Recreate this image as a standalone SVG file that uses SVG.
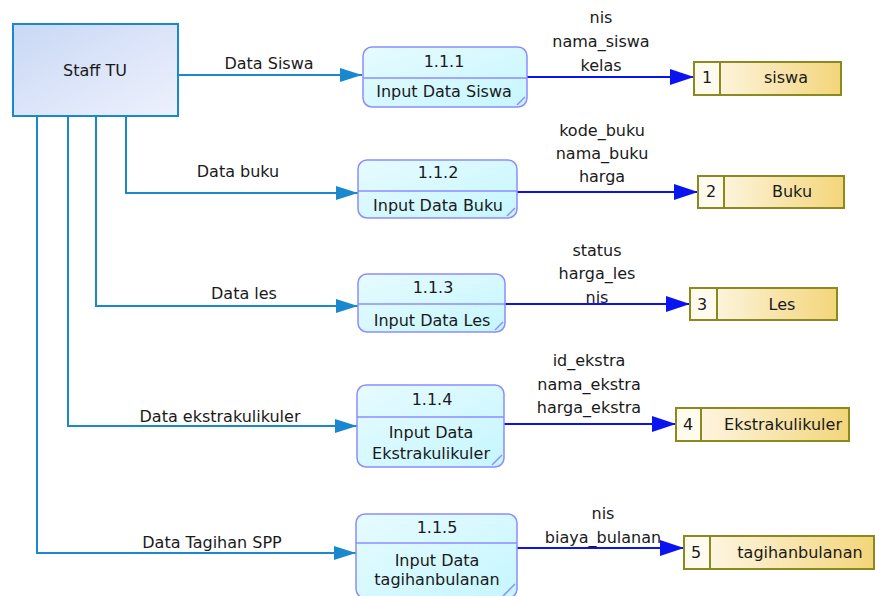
<svg xmlns="http://www.w3.org/2000/svg" width="875" height="596" viewBox="0 0 875 596">
<defs>
<linearGradient id="gExt" x1="0" y1="0" x2="1" y2="1"><stop offset="0" stop-color="#c9d8f5"/><stop offset="1" stop-color="#eef1fd"/></linearGradient>
<linearGradient id="gProc" x1="0" y1="0" x2="1" y2="1"><stop offset="0" stop-color="#e6fbff"/><stop offset="1" stop-color="#c6f6ff"/></linearGradient>
<linearGradient id="gStore" x1="0" y1="0" x2="1" y2="0"><stop offset="0" stop-color="#fffaf0"/><stop offset="1" stop-color="#f3d57a"/></linearGradient>
<marker id="aIn" markerWidth="22" markerHeight="14" refX="22" refY="7" orient="auto" markerUnits="userSpaceOnUse"><path d="M0,0 L22,7 L0,14 Z" fill="#1a88cf"/></marker>
<marker id="aOut" markerWidth="24" markerHeight="16" refX="24" refY="8" orient="auto" markerUnits="userSpaceOnUse"><path d="M0,0 L24,8 L0,16 Z" fill="#0a14f0"/></marker>
</defs>
<style>
text{font-family:"DejaVu Sans",Verdana,sans-serif;font-size:16px;fill:#1a1a1a;}
.c{text-anchor:middle;}
.in{fill:none;stroke:#1a88cf;stroke-width:2;}
.out{fill:none;stroke:#0a14f0;stroke-width:2;}
.proc rect.b{fill:url(#gProc);stroke:#8c8cff;stroke-width:1.5;}
.proc line{stroke:#8c8cff;stroke-width:1.5;}
.store rect.b{fill:url(#gStore);stroke:#8a8a1e;stroke-width:2;}
.store rect.n{fill:#fffaee;stroke:#8a8a1e;stroke-width:2;}
</style>
<rect width="875" height="596" fill="#ffffff"/>

<g id="staff-tu">
<rect x="13" y="24" width="165" height="92" fill="url(#gExt)" stroke="#1a88cf" stroke-width="2"/>
<text class="c" x="95" y="76">Staff TU</text>
</g>

<g id="connectors">
<path class="in" d="M178,75 H362" marker-end="url(#aIn)"/>
<path class="in" d="M126,116 V193 H358" marker-end="url(#aIn)"/>
<path class="in" d="M96,116 V306 H358" marker-end="url(#aIn)"/>
<path class="in" d="M68,116 V426 H357" marker-end="url(#aIn)"/>
<path class="in" d="M37,116 V553 H356" marker-end="url(#aIn)"/>
<path class="out" d="M527,77 H694" marker-end="url(#aOut)"/>
<path class="out" d="M517,192 H698" marker-end="url(#aOut)"/>
<path class="out" d="M505,304 H690" marker-end="url(#aOut)"/>
<path class="out" d="M504,424 H676" marker-end="url(#aOut)"/>
<path class="out" d="M517,548 H684" marker-end="url(#aOut)"/>
<text class="c" x="269" y="69">Data Siswa</text>
<text class="c" x="238" y="177">Data buku</text>
<text class="c" x="244" y="299">Data les</text>
<text class="c" x="220" y="422">Data ekstrakulikuler</text>
<text class="c" x="212" y="548">Data Tagihan SPP</text>
<text class="c" x="601" y="23">nis</text>
<text class="c" x="601" y="47">nama_siswa</text>
<text class="c" x="601" y="71">kelas</text>
<text class="c" x="602" y="136">kode_buku</text>
<text class="c" x="602" y="159">nama_buku</text>
<text class="c" x="602" y="182">harga</text>
<text class="c" x="597" y="256">status</text>
<text class="c" x="597" y="279">harga_les</text>
<text class="c" x="597" y="303">nis</text>
<text class="c" x="589" y="366">id_ekstra</text>
<text class="c" x="589" y="390">nama_ekstra</text>
<text class="c" x="589" y="413">harga_ekstra</text>
<text class="c" x="603" y="519">nis</text>
<text class="c" x="603" y="543">biaya_bulanan</text>
</g>

<g id="p111" class="proc">
<rect class="b" x="363" y="47" width="164" height="60" rx="9"/>
<line x1="363" y1="78" x2="527" y2="78"/>
<line x1="517" y1="105" x2="525" y2="97"/>
<text class="c" x="444" y="67">1.1.1</text>
<text class="c" x="444" y="97">Input Data Siswa</text>
</g>
<g id="p112" class="proc">
<rect class="b" x="358" y="160" width="159" height="58" rx="9"/>
<line x1="358" y1="191" x2="517" y2="191"/>
<line x1="507" y1="216" x2="515" y2="208"/>
<text class="c" x="438" y="178">1.1.2</text>
<text class="c" x="438" y="211">Input Data Buku</text>
</g>
<g id="p113" class="proc">
<rect class="b" x="358" y="274" width="147" height="58" rx="9"/>
<line x1="358" y1="304" x2="505" y2="304"/>
<line x1="495" y1="330" x2="503" y2="322"/>
<text class="c" x="433" y="293">1.1.3</text>
<text class="c" x="432" y="326">Input Data Les</text>
</g>
<g id="p114" class="proc">
<rect class="b" x="357" y="385" width="147" height="82" rx="9"/>
<line x1="357" y1="417" x2="504" y2="417"/>
<line x1="492" y1="465" x2="502" y2="455"/>
<text class="c" x="432" y="405">1.1.4</text>
<text class="c" x="431" y="438">Input Data</text>
<text class="c" x="431" y="459">Ekstrakulikuler</text>
</g>
<g id="p115" class="proc">
<rect class="b" x="356" y="514" width="161" height="84" rx="9"/>
<line x1="356" y1="543" x2="517" y2="543"/>
<line x1="503" y1="596" x2="515" y2="584"/>
<text class="c" x="437" y="533">1.1.5</text>
<text class="c" x="437" y="566">Input Data</text>
<text class="c" x="437" y="585">tagihanbulanan</text>
</g>

<g id="s1" class="store">
<rect class="b" x="694" y="62" width="147" height="33"/>
<rect class="n" x="694" y="62" width="26" height="33"/>
<text x="702" y="83">1</text>
<text class="c" x="786" y="83">siswa</text>
</g>
<g id="s2" class="store">
<rect class="b" x="698" y="176" width="146" height="32"/>
<rect class="n" x="698" y="176" width="26" height="32"/>
<text x="706" y="197">2</text>
<text class="c" x="792" y="197">Buku</text>
</g>
<g id="s3" class="store">
<rect class="b" x="690" y="288" width="147" height="32"/>
<rect class="n" x="690" y="288" width="27" height="32"/>
<text x="697" y="310">3</text>
<text class="c" x="782" y="310">Les</text>
</g>
<g id="s4" class="store">
<rect class="b" x="676" y="408" width="173" height="33"/>
<rect class="n" x="676" y="408" width="25" height="33"/>
<text x="683" y="430">4</text>
<text class="c" x="783" y="430">Ekstrakulikuler</text>
</g>
<g id="s5" class="store">
<rect class="b" x="684" y="536" width="190" height="33"/>
<rect class="n" x="684" y="536" width="26" height="33"/>
<text x="691" y="558">5</text>
<text class="c" x="800" y="558">tagihanbulanan</text>
</g>
</svg>
